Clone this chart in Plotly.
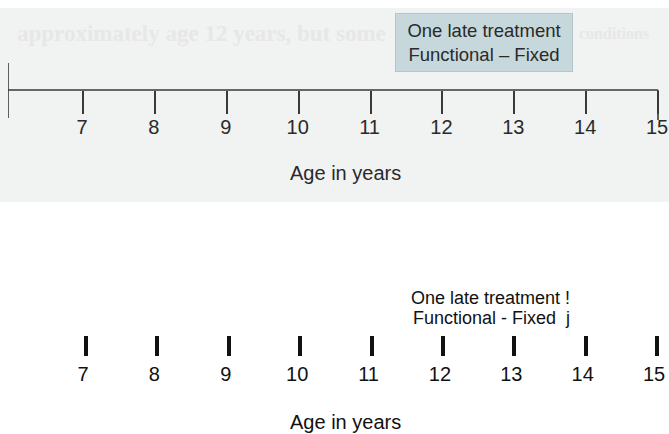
import plotly.graph_objects as go

# ---- data ----
ages = [7, 8, 9, 10, 11, 12, 13, 14, 15]
age_labels = [str(a) for a in ages]
timeline_start = 5.9565          # age where the drawn timeline begins (left end bar)
axis_title = "Age in years"
box_lines = ["One late treatment", "Functional \u2013 Fixed"]
plain_lines = ["One late treatment !", "Functional - Fixed  j"]
ghost_left = "approximately age 12 years, but some"
ghost_right = "conditions"

W, H = 669, 434
FONT = "Liberation Sans, Arial, Helvetica, sans-serif"
PX_PER_YEAR = 650 / (ages[-1] - timeline_start)


def px(x):
    return x / W


def py(y):
    return 1 - y / H


fig = go.Figure()

# invisible carrier traces so each axis pair is a real subplot
fig.add_trace(go.Scatter(x=ages, y=[0] * len(ages), xaxis="x", yaxis="y",
                         mode="markers", marker=dict(opacity=0), hoverinfo="skip", showlegend=False))
fig.add_trace(go.Scatter(x=ages, y=[0] * len(ages), xaxis="x2", yaxis="y2",
                         mode="markers", marker=dict(opacity=0), hoverinfo="skip", showlegend=False))

LINE_C = "#3a3838"
shapes = [
    # scanned-page background of the upper figure
    dict(type="rect", xref="paper", yref="paper", x0=0, x1=1, y0=py(202), y1=py(8),
         fillcolor="#f1f2f2", line=dict(width=0), layer="below"),
    # timeline line from its start to the last age
    dict(type="line", xref="x", yref="paper", x0=timeline_start, x1=ages[-1],
         y0=py(90), y1=py(90), line=dict(color=LINE_C, width=1.6)),
    dict(type="line", xref="x", yref="paper", x0=timeline_start, x1=timeline_start,
         y0=py(118), y1=py(63), line=dict(color=LINE_C, width=1.6)),
    dict(type="line", xref="x", yref="paper", x0=ages[-1], x1=ages[-1],
         y0=py(120), y1=py(90), line=dict(color=LINE_C, width=1.6)),
]

annotations = [
    dict(xref="paper", yref="paper", x=px(15), y=py(33), xanchor="left", yanchor="middle",
         text="<b>" + ghost_left + "</b>", showarrow=False,
         font=dict(family="Liberation Serif, serif", size=23, color="#e7e7e7")),
    dict(xref="paper", yref="paper", x=px(577), y=py(33), xanchor="left", yanchor="middle",
         text="<b>" + ghost_right + "</b>", showarrow=False,
         font=dict(family="Liberation Serif, serif", size=16, color="#e7e7e7")),
    dict(xref="paper", yref="paper", x=px(484), y=py(42.5), xanchor="center", yanchor="middle",
         text="<br>".join(box_lines), showarrow=False, align="center",
         width=170, height=51, borderpad=3, bgcolor="#c6d8dc", bordercolor="#b3c7cb", borderwidth=1,
         font=dict(family=FONT, size=18.5, color="#2a2a2a")),
    dict(xref="paper", yref="paper", x=px(490), y=py(298), xanchor="center", yanchor="middle",
         text=plain_lines[0], showarrow=False, font=dict(family=FONT, size=18, color="#111111")),
    dict(xref="paper", yref="paper", x=px(491), y=py(318), xanchor="center", yanchor="middle",
         text=plain_lines[1], showarrow=False, font=dict(family=FONT, size=18, color="#111111")),
    dict(xref="paper", yref="paper", x=px(345), y=py(173), xanchor="center", yanchor="middle",
         text=axis_title, showarrow=False, font=dict(family=FONT, size=20, color="#2a2a2a")),
    dict(xref="paper", yref="paper", x=px(345), y=py(422), xanchor="center", yanchor="middle",
         text=axis_title, showarrow=False, font=dict(family=FONT, size=20, color="#111111")),
]

fig.update_layout(
    width=W, height=H,
    margin=dict(l=0, r=0, t=0, b=0),
    paper_bgcolor="white", plot_bgcolor="rgba(0,0,0,0)",
    showlegend=False,
    xaxis=dict(domain=[px(8), 1],
               range=[timeline_start, ages[-1] + (W - 658) / PX_PER_YEAR], anchor="y",
               showgrid=False, zeroline=False, showline=False,
               ticks="outside", ticklen=23, tickwidth=1.6, tickcolor=LINE_C,
               tickmode="array", tickvals=ages, ticktext=age_labels,
               tickfont=dict(family=FONT, size=20, color="#2a2a2a"), ticklabelstandoff=-4,
               ticklabelshift=-1, fixedrange=True),
    yaxis=dict(domain=[py(90), py(8)], range=[0, 1], visible=False, fixedrange=True),
    xaxis2=dict(domain=[0, 1], range=[5.795, 15.168], anchor="y2",
                showgrid=False, zeroline=False, showline=False,
                ticks="outside", ticklen=20, tickwidth=3.5, tickcolor="#111111",
                tickmode="array", tickvals=ages, ticktext=age_labels,
                tickfont=dict(family=FONT, size=20, color="#111111"), ticklabelstandoff=1,
                ticklabelshift=-3, fixedrange=True),
    yaxis2=dict(domain=[py(335), py(240)], range=[0, 1], visible=False, fixedrange=True),
    shapes=shapes,
    annotations=annotations,
)

fig.write_html(
    "out.html",
    config={"displayModeBar": False},
    post_script=("document.documentElement.style.margin='0';document.documentElement.style.overflow='hidden';"
                 "document.body.style.margin='0';document.body.style.overflow='hidden';"),
)
